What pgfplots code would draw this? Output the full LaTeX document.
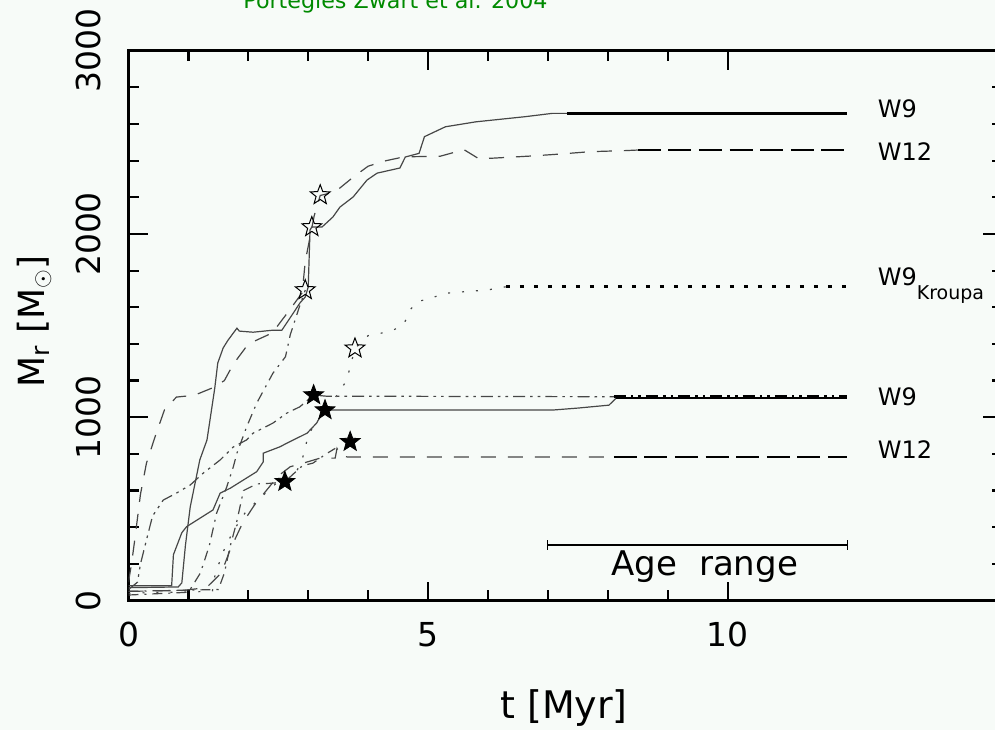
\documentclass[border=0pt]{standalone}
\usepackage{pgfplots}
\pgfplotsset{compat=1.18}
\usepackage{fontspec}
\setmainfont{DejaVu Sans}
\definecolor{bg}{RGB}{247,251,248}
\definecolor{titlegreen}{RGB}{0,138,0}
\tikzset{rlabel/.style={anchor=west, inner sep=0pt, font=\fontsize{12}{14}\selectfont}}

\pgfdeclareplotmark{ostar}{%
 \pgfpathmoveto{\pgfpointpolar{90}{\pgfplotmarksize}}%
 \pgfpathlineto{\pgfpointpolar{126}{0.42*\pgfplotmarksize}}%
 \pgfpathlineto{\pgfpointpolar{162}{\pgfplotmarksize}}%
 \pgfpathlineto{\pgfpointpolar{198}{0.42*\pgfplotmarksize}}%
 \pgfpathlineto{\pgfpointpolar{234}{\pgfplotmarksize}}%
 \pgfpathlineto{\pgfpointpolar{270}{0.42*\pgfplotmarksize}}%
 \pgfpathlineto{\pgfpointpolar{306}{\pgfplotmarksize}}%
 \pgfpathlineto{\pgfpointpolar{342}{0.42*\pgfplotmarksize}}%
 \pgfpathlineto{\pgfpointpolar{18}{\pgfplotmarksize}}%
 \pgfpathlineto{\pgfpointpolar{54}{0.42*\pgfplotmarksize}}%
 \pgfpathclose\pgfusepathqstroke}
\pgfdeclareplotmark{fstar}{%
 \pgfpathmoveto{\pgfpointpolar{90}{\pgfplotmarksize}}%
 \pgfpathlineto{\pgfpointpolar{126}{0.42*\pgfplotmarksize}}%
 \pgfpathlineto{\pgfpointpolar{162}{\pgfplotmarksize}}%
 \pgfpathlineto{\pgfpointpolar{198}{0.42*\pgfplotmarksize}}%
 \pgfpathlineto{\pgfpointpolar{234}{\pgfplotmarksize}}%
 \pgfpathlineto{\pgfpointpolar{270}{0.42*\pgfplotmarksize}}%
 \pgfpathlineto{\pgfpointpolar{306}{\pgfplotmarksize}}%
 \pgfpathlineto{\pgfpointpolar{342}{0.42*\pgfplotmarksize}}%
 \pgfpathlineto{\pgfpointpolar{18}{\pgfplotmarksize}}%
 \pgfpathlineto{\pgfpointpolar{54}{0.42*\pgfplotmarksize}}%
 \pgfpathclose\pgfusepathqfillstroke}

\begin{document}
\begin{tikzpicture}
\fill[bg] (-64.25pt,-64.75pt) rectangle (433.25pt,300.25pt);
\begin{axis}[
 at={(0,0)}, anchor=south west,
 scale only axis, width=436.75pt, height=274.9pt,
 xmin=0, xmax=14.58, ymin=0, ymax=3000,
 xtick={0,5,10}, xticklabels={0,5,10}, minor x tick num=4,
 ytick={0,1000,2000,3000}, yticklabels={0,1000,2000,3000}, minor y tick num=4,
 tick pos=both, tick align=inside,
 major tick length=9.5pt, minor tick length=5.25pt,
 every tick/.style={black, line width=1.1pt},
 axis line style={black, line width=1.3pt},
 xticklabel style={font=\fontsize{16.5}{18}\selectfont, anchor=north, inner sep=0pt},
 yticklabel style={font=\fontsize{16.5}{18}\selectfont, rotate=90, anchor=south, inner sep=0pt},
 xticklabel shift=10.6pt, yticklabel shift=13.5pt,
 curve/.style={black!72, line width=0.6pt, mark=none},
 plat/.style={black, line width=1.3pt, mark=none},
 tdash/.style={dash pattern=on 7.5pt off 6pt},
 Tdash/.style={dash pattern=on 11.5pt off 3.8pt},
 tdot/.style={dash pattern=on 1pt off 6pt},
 Tdot/.style={dash pattern=on 2pt off 5pt},
 tdashdot/.style={dash pattern=on 5pt off 3pt on 1pt off 3pt},
 tddd/.style={dash pattern=on 6pt off 2.5pt on 1.3pt off 2.5pt on 1.3pt off 2.5pt},
]
% Upper W9 (solid)
\addplot[curve, solid] coordinates {(0,70) (0.83,74) (0.89,96) (0.95,300) (1.03,510) (1.19,767) (1.31,876) (1.44,1159) (1.49,1296) (1.58,1378) (1.66,1420) (1.81,1486) (1.85,1470) (2.08,1464) (2.41,1475) (2.56,1475) (2.75,1568) (2.86,1623) (2.95,1656) (3.00,1711) (3.03,2022) (3.06,2038) (3.23,2038) (3.41,2092) (3.53,2147) (3.75,2202) (3.98,2294) (4.15,2332) (4.53,2360) (4.62,2420) (4.85,2440) (4.94,2531) (5.29,2585) (5.80,2612) (6.62,2640) (7.07,2658) (7.32,2658)};
\addplot[plat, solid] coordinates {(7.32,2658) (12,2658)};
% Upper W12 (dashed)
\addplot[curve, tdash] coordinates {(0,100) (0.05,200) (0.1,320) (0.2,580) (0.3,750) (0.45,900) (0.6,1040) (0.8,1110) (1.1,1120) (1.4,1160) (1.6,1200) (1.75,1290) (2.0,1400) (2.4,1460) (2.7,1590) (2.9,1680) (2.95,1850) (3.1,2100) (3.2,2210) (3.45,2230) (3.75,2310) (4.0,2370) (4.3,2400) (4.6,2421) (5.2,2424) (5.6,2460) (5.85,2410) (6.1,2414) (6.7,2425) (7.2,2436) (7.7,2449) (8.3,2455) (8.5,2458)};
\addplot[plat, Tdash] coordinates {(8.5,2458) (12,2458)};
% W9 Kroupa (dotted)
\addplot[curve, tdot] coordinates {(0,40) (1.4,50) (1.45,150) (1.6,280) (1.75,380) (1.95,480) (2.2,560) (2.5,650) (2.8,700) (2.9,770) (3.0,900) (3.1,960) (3.3,1040) (3.5,1130) (3.64,1200) (3.72,1300) (3.78,1376) (4.0,1445) (4.25,1461) (4.42,1476) (4.59,1503) (4.7,1585) (4.81,1630) (5.0,1645) (5.3,1677) (6.0,1695) (6.3,1712)};
\addplot[plat, Tdot] coordinates {(6.3,1712) (12,1712)};
% Lower W9 (dash-dot-dot)
\addplot[curve, tddd] coordinates {(0,60) (0.15,100) (0.2,200) (0.3,330) (0.4,460) (0.58,548) (0.8,586) (1.03,630) (1.24,693) (1.53,767) (1.75,838) (1.97,876) (2.08,913) (2.41,968) (2.64,1022) (2.86,1057) (3.09,1121) (3.3,1115) (8.1,1112)};
\addplot[plat, tddd] coordinates {(8.1,1112) (12,1112)};
% Lower W9 (solid)
\addplot[curve, solid] coordinates {(0,80) (0.72,80) (0.75,250) (0.89,370) (0.97,403) (1.41,494) (1.53,586) (1.7,613) (2.14,703) (2.25,757) (2.25,804) (2.53,839) (2.64,858) (2.98,913) (3.14,968) (3.23,1022) (3.28,1039) (7.07,1039) (7.5,1050) (8.02,1066) (8.14,1105)};
\addplot[plat, solid, line width=1.1pt] coordinates {(8.14,1105) (12,1105)};
% Lower W12 (dashed)
\addplot[curve, tdash] coordinates {(0,50) (0.9,55) (1.3,70) (1.55,150) (1.7,280) (1.9,420) (2.1,520) (2.3,600) (2.5,680) (2.7,730) (2.92,750) (3.2,777) (3.45,777) (3.48,830) (3.55,790) (3.66,783) (8.1,783)};
\addplot[plat, Tdash] coordinates {(8.1,783) (12,783)};
% Additional runs (dash-dot)
\addplot[curve, tdashdot] coordinates {(0,30) (1.0,45) (1.2,150) (1.35,300) (1.47,476) (1.64,620) (1.75,730) (1.81,804) (1.97,946) (2.14,1077) (2.41,1240) (2.62,1330) (2.7,1450) (2.85,1600) (2.95,1694)};
\addplot[curve, tdashdot] coordinates {(0,50) (1.5,60) (1.6,150) (1.7,300) (1.8,420) (1.92,600) (2.14,636) (2.4,640) (2.61,648) (2.9,735) (3.08,750) (3.3,800) (3.45,830)};
% Stars
\addplot[only marks, mark=ostar, mark size=5.2pt, mark options={black, line width=0.5pt}] coordinates {(2.95,1694) (3.06,2038) (3.2,2212) (3.78,1376)};
\addplot[only marks, mark=fstar, mark size=5.2pt, mark options={black, fill=black, line width=0.4pt}] coordinates {(3.09,1121) (3.28,1039) (3.7,866) (2.61,648)};
% Age range
\addplot[black, line width=0.6pt, mark=|, mark size=2.3pt, mark options={solid, line width=0.6pt}] coordinates {(7,303) (12,303)};
\node[anchor=base, font=\fontsize{17}{19}\selectfont] at (axis cs:9.62,139) {Age\ \ range};
% Labels
\node[rlabel] at (axis cs:12.5,2681) {W9};
\node[rlabel] at (axis cs:12.5,2452) {W12};
\node[rlabel] at (axis cs:12.5,1721) {W9\raisebox{-7pt}{\fontsize{9.5}{11}\selectfont Kroupa}};
\node[rlabel] at (axis cs:12.5,1110) {W9};
\node[rlabel] at (axis cs:12.5,821) {W12};
\end{axis}
\node[font=\fontsize{19}{21}\selectfont] at (217.75pt,-53.75pt) {t [Myr]};
\node[rotate=90, font=\fontsize{18}{20}\selectfont] at (-47.25pt,139.5pt) {M$_\mathrm{r}$ [M$_\odot$]};
\node[anchor=base west, inner sep=0pt, text=titlegreen, font=\fontsize{11.1}{13}\selectfont] at (57.25pt,295.75pt) {Portegies Zwart et al. 2004};
\pgfresetboundingbox
\path[use as bounding box] (-64.25pt,-64.75pt) rectangle (433.25pt,300.25pt);
\end{tikzpicture}
\end{document}
